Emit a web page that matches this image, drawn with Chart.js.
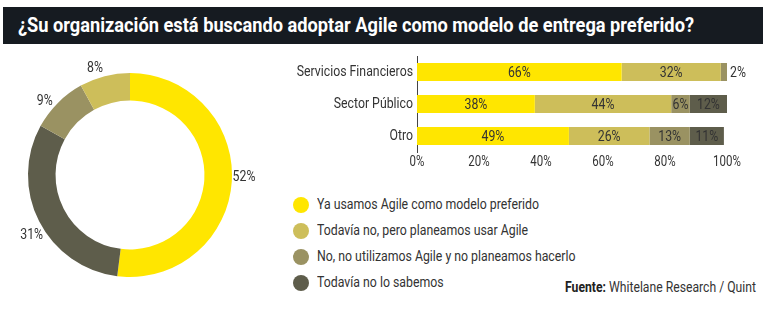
<!DOCTYPE html>
<html>
<head>
<meta charset="utf-8">
<script src="https://cdn.jsdelivr.net/npm/chart.js@4.4.1/dist/chart.umd.min.js"></script>
<style>
  body { margin: 0; background: #fff; width: 768px; height: 321px; position: relative; overflow: hidden;
         font-family: Roboto, "Liberation Sans", sans-serif; color: #333; }
  .title { position: absolute; left: 3px; top: 7px; width: 760px; height: 37px; background: #161b21; }
  .title span { position: absolute; left: 15px; top: 0; color: #fff; font-weight: bold; font-size: 21px;
                line-height: 37px; white-space: nowrap; transform-origin: left center; }
  #donut { position: absolute; left: 0; top: 48px; }
  #bars { position: absolute; left: 280px; top: 50px; }
  .legend { position: absolute; left: 293px; top: 197px; }
  .legend div { position: relative; height: 26px; }
  .legend .dot { position: absolute; left: 0; top: 0; width: 16px; height: 16px; border-radius: 50%; }
  .legend .txt { position: absolute; left: 24px; top: -2px; font-size: 15px; line-height: 19px; white-space: nowrap;
                 transform-origin: left center; }
  .source { position: absolute; left: 565px; top: 278px; font-size: 14px; line-height: 18px; white-space: nowrap;
            transform-origin: left center; }
  .source b { color: #222; }
</style>
</head>
<body>
<div class="title"><span id="title">¿Su organización está buscando adoptar Agile como modelo de entrega preferido?</span></div>
<canvas id="donut" width="270" height="255"></canvas>
<canvas id="bars" width="488" height="125"></canvas>
<div class="legend" id="legend"></div>
<div class="source" id="source"><b>Fuente:</b> Whitelane Research / Quint</div>
<script>
// Series names (legend order) and colors
const seriesNames = [
  'Ya usamos Agile como modelo preferido',
  'Todavía no, pero planeamos usar Agile',
  'No, no utilizamos Agile y no planeamos hacerlo',
  'Todavía no lo sabemos'
]
const seriesColors = ['#ffe600', '#cdbe5a', '#9a9262', '#5e5d4b']

// Donut (clockwise from top)
const donutLabels = ['Ya usamos', 'No lo sabemos', 'No utilizamos', 'Planeamos']
const donutValues = [52, 31, 9, 8]
const donutColors = ['#ffe600', '#5e5d4b', '#9a9262', '#cdbe5a']

// Stacked bars by sector
const sectors = ['Servicios Financieros', 'Sector Público', 'Otro']
const yaUsamos = [66, 38, 49]
const planeamos = [32, 44, 26]
const noUtilizamos = [2, 6, 13]
const noSabemos = [0, 12, 11]
const xTicks = [0, 20, 40, 60, 80, 100]

const FONT = 'Roboto, "Liberation Sans", sans-serif'
const SX = 0.82  // horizontal squeeze to imitate the condensed face

// squeeze an html element to a given width
function fitWidth(el, target) {
  const w = el.getBoundingClientRect().width
  el.style.transform = `scaleX(${target / w})`
}

// legend
const legendEl = document.getElementById('legend')
seriesNames.forEach((name, i) => {
  const row = document.createElement('div')
  row.innerHTML = `<span class="dot" style="background:${seriesColors[i]}"></span><span class="txt">${name}</span>`
  legendEl.appendChild(row)
})
document.querySelectorAll('.legend .txt').forEach(el => { el.style.transform = `scaleX(${SX})` })
fitWidth(document.getElementById('title'), 676)
fitWidth(document.getElementById('source'), 191)

// draw condensed text on a canvas
function squeezeText(ctx, text, x, y, align, size) {
  ctx.save()
  ctx.font = size + 'px ' + FONT
  ctx.fillStyle = '#333'
  ctx.textBaseline = 'middle'
  ctx.textAlign = align
  ctx.translate(x, y)
  ctx.scale(SX, 1)
  ctx.fillText(text, 0, 0)
  ctx.restore()
}

// labels outside the donut
const donutLabelPlugin = {
  id: 'donutLabels',
  afterDatasetsDraw(chart) {
    const meta = chart.getDatasetMeta(0)
    meta.data.forEach((arc, i) => {
      const mid = (arc.startAngle + arc.endAngle) / 2 - 0.06
      const r = arc.outerRadius + 12
      squeezeText(chart.ctx, donutValues[i] + '%', arc.x + Math.cos(mid) * r, arc.y + Math.sin(mid) * r + 2, 'center', 15)
    })
  }
}

new Chart(document.getElementById('donut'), {
  type: 'doughnut',
  data: {
    labels: donutLabels,
    datasets: [{ data: donutValues, backgroundColor: donutColors, borderWidth: 0 }]
  },
  options: {
    responsive: false,
    animation: false,
    cutout: '73%',
    layout: { padding: { left: 28, right: 38, top: 25, bottom: 26 } },
    plugins: { legend: { display: false }, tooltip: { enabled: false } }
  },
  plugins: [donutLabelPlugin]
})

// value labels in the bars plus axis labels
const barLabelPlugin = {
  id: 'barLabels',
  afterDatasetsDraw(chart) {
    const ctx = chart.ctx
    chart.data.datasets.forEach((ds, di) => {
      chart.getDatasetMeta(di).data.forEach((bar, i) => {
        const v = ds.data[i]
        if (!v) return
        if (v < 4) {
          squeezeText(ctx, v + '%', bar.x + 3, bar.y + 1, 'left', 15)
        } else {
          squeezeText(ctx, v + '%', (bar.x + bar.base) / 2, bar.y + 1, 'center', 15)
        }
      })
    })
    const xs = chart.scales.x
    const ys = chart.scales.y
    xTicks.forEach(v => {
      squeezeText(ctx, v + '%', xs.getPixelForValue(v), chart.chartArea.bottom + 10, 'center', 14)
    })
    sectors.forEach((s, i) => {
      squeezeText(ctx, s, chart.chartArea.left - 4, ys.getPixelForValue(i), 'right', 15)
    })
  }
}

const barSeries = [yaUsamos, planeamos, noUtilizamos, noSabemos]

new Chart(document.getElementById('bars'), {
  type: 'bar',
  data: {
    labels: sectors,
    datasets: barSeries.map((d, i) => ({
      label: seriesNames[i],
      data: d,
      backgroundColor: seriesColors[i],
      borderWidth: 0,
      barPercentage: 0.5625,
      categoryPercentage: 1
    }))
  },
  options: {
    indexAxis: 'y',
    responsive: false,
    animation: false,
    layout: { padding: { left: 0, right: 41, top: 6, bottom: 0 } },
    plugins: { legend: { display: false }, tooltip: { enabled: false } },
    scales: {
      x: {
        stacked: true,
        min: 0,
        max: 100,
        afterFit: scale => { scale.height = 23 },
        grid: { display: false },
        border: { display: false },
        ticks: { display: false }
      },
      y: {
        stacked: true,
        afterFit: scale => { scale.width = 137 },
        grid: { display: false },
        border: { display: true, color: '#444', width: 1 },
        ticks: { display: false }
      }
    }
  },
  plugins: [barLabelPlugin]
})
</script>
</body>
</html>
